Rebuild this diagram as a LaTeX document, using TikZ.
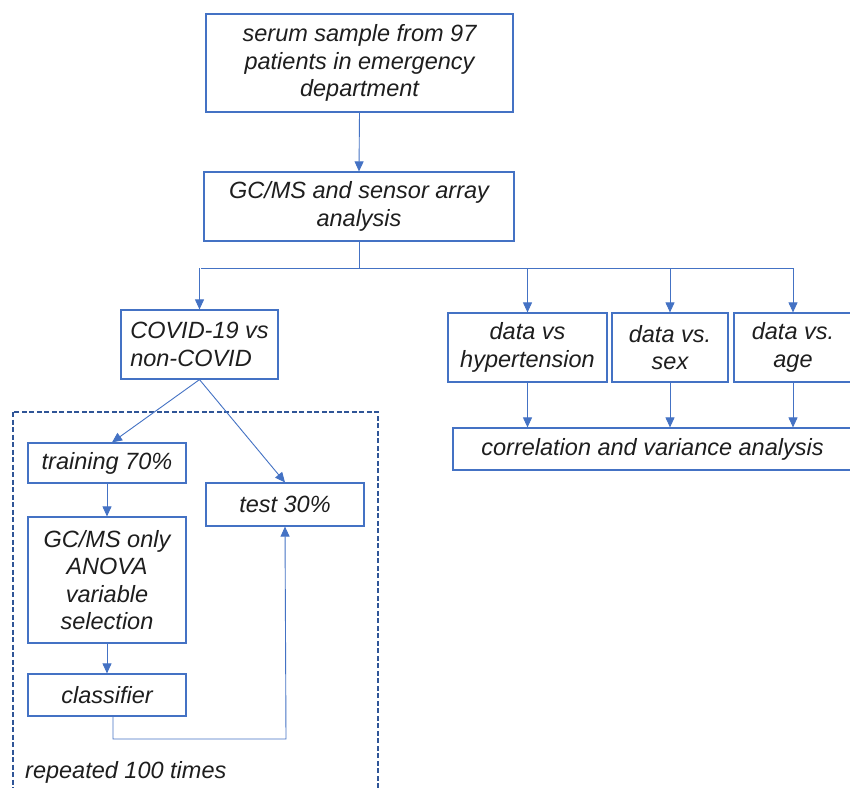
\documentclass[tikz,border=0pt]{standalone}
\usepackage{fontspec}
\setmainfont{Liberation Sans}
\usetikzlibrary{arrows.meta}
\definecolor{boxblue}{HTML}{4472C4}
\definecolor{dashblue}{HTML}{2F5597}
\definecolor{txt}{HTML}{1E1E1E}
\tikzset{
  box/.style={draw=boxblue, line width=1.2pt, inner sep=0pt, align=center, text=txt,
    font=\fontsize{23.5}{27.5}\selectfont\itshape},
  conn/.style={draw=boxblue, line width=0.9pt},
  arr/.style={conn, -{Triangle[length=10pt,width=9pt]}},
}
\begin{document}
\begin{tikzpicture}[x=1pt,y=-1pt]
\path[use as bounding box, clip] (0,0) rectangle (850,787);
\fill[white] (0,0) rectangle (850,787);

% dashed frame
\draw[dashblue, line width=1.5pt, dash pattern=on 5pt off 2.5pt] (13,412) rectangle (378,800);

% nodes
\node[box, minimum width=307pt, minimum height=98pt] (serum) at (359.5,63)
  {serum sample from 97\\patients in emergency\\department};
\node[box, minimum width=310pt, minimum height=69pt] (gc) at (359,206.5)
  {GC/MS and sensor array\\analysis};
\node[box, align=left, minimum width=157pt, minimum height=69pt] (covid) at (199.5,344.5)
  {COVID-19 vs\\non-COVID};
\node[box, minimum width=159pt, minimum height=69pt] (hyp) at (527.5,347.5)
  {data vs\\hypertension};
\node[box, minimum width=116pt, minimum height=69pt] (sex) at (670,347.5)
  {data vs.\\sex};
\node[box, minimum width=118pt, minimum height=69pt] (age) at (793,347.5)
  {data vs.\\age};
\node[box, minimum width=399pt, minimum height=42pt] (corr) at (652.5,449)
  {correlation and variance analysis};
\node[box, minimum width=158pt, minimum height=40pt] (train) at (107,463)
  {training 70\%};
\node[box, minimum width=158pt, minimum height=126pt] (gconly) at (107,580)
  {GC/MS only\\ANOVA\\variable\\selection};
\node[box, minimum width=158pt, minimum height=42pt] (classif) at (107,695)
  {classifier};
\node[box, minimum width=158pt, minimum height=43pt] (test) at (285,504.5)
  {test 30\%};
\node[anchor=west, inner sep=0pt, text=txt, font=\fontsize{23.5}{27.5}\selectfont\itshape]
  (rep) at (25,772) {repeated 100 times};

% coordinates
\coordinate (busL) at (201,268);
\coordinate (loop) at (286,739);

% connectors
\draw[arr] (serum.south) -- (gc.north);
\draw[conn] (gc.south) -- (gc.south |- busL);
\draw[conn] (busL) -- (age.north |- busL);
\draw[arr] (covid.north |- busL) -- (covid.north);
\draw[arr] (hyp.north |- busL) -- (hyp.north);
\draw[arr] (sex.north |- busL) -- (sex.north);
\draw[arr] (age.north |- busL) -- (age.north);

\draw[arr] (hyp.south) -- (hyp.south |- corr.north);
\draw[arr] (sex.south) -- (sex.south |- corr.north);
\draw[arr] (age.south) -- (age.south |- corr.north);

\draw[arr] (covid.south) -- ([xshift=5pt]train.north);
\draw[arr] (covid.south) -- (test.north);
\draw[arr] (train.south) -- (gconly.north);
\draw[arr] (gconly.south) -- (classif.north);
\draw[arr] ([xshift=6pt]classif.south) |- (loop) -- (test.south);
\end{tikzpicture}
\end{document}
